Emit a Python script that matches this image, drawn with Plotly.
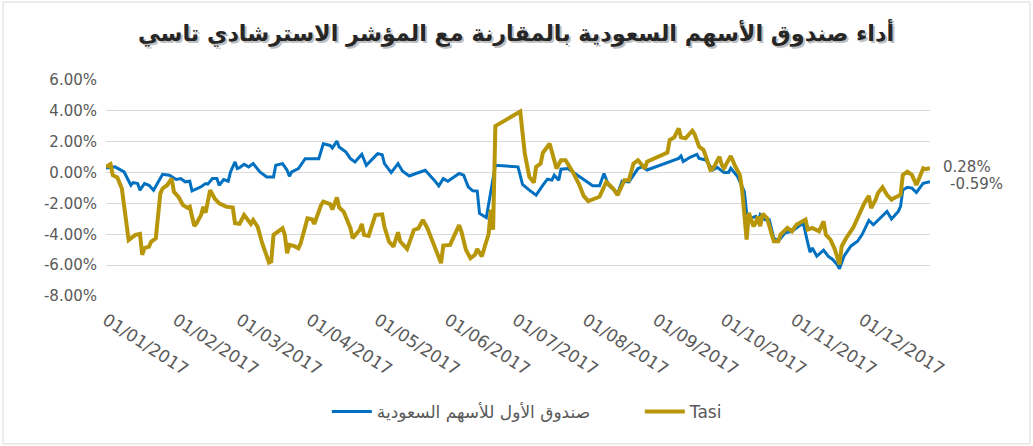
import plotly.graph_objects as go

# ---------------- data ----------------
fund_name = "صندوق الأول للأسهم السعودية"
tasi_name = "Tasi"
title_text = "أداء صندوق الأسهم السعودية بالمقارنة مع المؤشر الاسترشادي تاسي"

fund_dates = [
    "2017-01-01", "2017-01-05", "2017-01-09", "2017-01-12", "2017-01-13", "2017-01-15", "2017-01-16",
    "2017-01-18", "2017-01-20", "2017-01-22", "2017-01-26", "2017-01-29",
    "2017-02-01", "2017-02-03", "2017-02-05", "2017-02-07", "2017-02-08", "2017-02-12", "2017-02-14",
    "2017-02-15", "2017-02-17", "2017-02-19", "2017-02-20", "2017-02-22", "2017-02-24", "2017-02-25",
    "2017-02-27", "2017-02-28",
    "2017-03-01", "2017-03-03", "2017-03-05", "2017-03-07", "2017-03-10", "2017-03-13", "2017-03-16",
    "2017-03-17", "2017-03-20", "2017-03-22", "2017-03-23", "2017-03-24", "2017-03-27", "2017-03-30",
    "2017-04-05", "2017-04-07", "2017-04-10", "2017-04-11", "2017-04-13", "2017-04-14", "2017-04-17",
    "2017-04-19", "2017-04-21", "2017-04-24", "2017-04-26", "2017-04-29",
    "2017-05-01", "2017-05-03", "2017-05-04", "2017-05-07", "2017-05-10", "2017-05-12", "2017-05-15",
    "2017-05-17", "2017-05-22", "2017-05-26", "2017-05-28", "2017-05-30",
    "2017-06-01", "2017-06-06", "2017-06-08", "2017-06-10", "2017-06-12", "2017-06-14", "2017-06-15",
    "2017-06-18", "2017-06-19", "2017-06-20", "2017-06-22",
    "2017-07-02", "2017-07-04", "2017-07-07", "2017-07-10", "2017-07-13", "2017-07-15", "2017-07-17",
    "2017-07-18", "2017-07-20", "2017-07-21", "2017-07-24", "2017-07-27", "2017-07-31",
    "2017-08-04", "2017-08-07", "2017-08-09", "2017-08-11", "2017-08-15", "2017-08-17", "2017-08-20",
    "2017-08-24", "2017-08-26", "2017-08-28",
    "2017-09-08", "2017-09-11", "2017-09-12", "2017-09-13", "2017-09-16", "2017-09-19", "2017-09-20",
    "2017-09-23", "2017-09-26", "2017-09-28",
    "2017-10-01", "2017-10-03", "2017-10-04", "2017-10-07", "2017-10-10", "2017-10-11", "2017-10-13",
    "2017-10-15", "2017-10-16", "2017-10-17", "2017-10-19", "2017-10-21", "2017-10-23", "2017-10-25",
    "2017-10-28", "2017-10-31",
    "2017-11-03", "2017-11-05", "2017-11-07", "2017-11-08", "2017-11-09", "2017-11-11", "2017-11-14",
    "2017-11-16", "2017-11-18", "2017-11-20", "2017-11-21", "2017-11-23", "2017-11-26", "2017-11-29",
    "2017-12-01", "2017-12-04", "2017-12-06", "2017-12-09", "2017-12-12", "2017-12-14", "2017-12-17",
    "2017-12-18", "2017-12-19", "2017-12-21", "2017-12-23", "2017-12-25", "2017-12-28", "2017-12-31",
]
fund_values = [
    0.30, 0.37, 0.04, -0.82, -0.65, -0.71, -1.14,
    -0.71, -0.82, -1.14, -0.11, -0.17,
    -0.45, -0.39, -0.60, -0.56, -1.18, -0.92, -0.71,
    -0.75, -0.39, -0.39, -0.82, -0.45, -0.56, 0.04,
    0.69, 0.26,
    0.32, 0.54, 0.37, 0.58, 0.04, -0.28, -0.28,
    0.47, 0.58, 0.15, -0.24, 0.04, 0.26, 0.90,
    0.90, 1.87, 1.76, 1.59, 2.04, 1.66, 1.33,
    0.90, 0.69, 1.18, 0.47, 0.90,
    1.23, 1.16, 0.58, 0.00, 0.58, 0.09, -0.22,
    -0.11, 0.15, -0.49, -0.86, -0.39,
    -0.56, -0.06, -0.17, -0.92, -1.18, -1.20, -2.65,
    -2.92, -2.00, -1.30, 0.47,
    0.37, -0.77, -1.14, -1.46, -0.82, -0.43, -0.49,
    -0.17, -0.49, 0.22, 0.26, -0.06, -0.49,
    -0.86, -0.86, -0.06, -0.82, -1.35, -0.56, -0.60,
    0.26, 0.38, 0.17,
    0.77, 0.92, 1.08, 0.71, 0.99, 1.18, 0.92,
    0.82, 0.17, 0.34,
    0.00, 0.00, 0.28, -0.26, -1.23, -2.62, -2.95,
    -2.84, -3.16, -2.73, -3.05, -3.05, -4.24, -4.45,
    -3.91, -3.81,
    -3.48, -3.27, -4.56, -5.16, -4.88, -5.42, -5.03,
    -5.42, -5.63, -5.96, -6.24, -5.42, -4.77, -4.45,
    -4.02, -3.10, -3.38, -2.95, -2.52, -3.01, -2.52,
    -2.19, -1.12, -0.95, -1.01, -1.29, -0.69, -0.59,
]

tasi_dates = [
    "2017-01-01", "2017-01-03", "2017-01-04", "2017-01-06", "2017-01-08", "2017-01-09", "2017-01-11",
    "2017-01-14", "2017-01-16", "2017-01-17", "2017-01-18", "2017-01-20", "2017-01-21", "2017-01-23",
    "2017-01-25", "2017-01-26", "2017-01-28", "2017-01-30", "2017-01-31",
    "2017-02-02", "2017-02-04", "2017-02-06", "2017-02-07", "2017-02-09", "2017-02-10", "2017-02-12",
    "2017-02-13", "2017-02-14", "2017-02-15", "2017-02-16", "2017-02-18", "2017-02-20", "2017-02-23",
    "2017-02-26", "2017-02-27",
    "2017-03-01", "2017-03-03", "2017-03-04", "2017-03-06", "2017-03-07", "2017-03-09", "2017-03-11",
    "2017-03-14", "2017-03-15", "2017-03-16", "2017-03-20", "2017-03-21", "2017-03-22", "2017-03-23",
    "2017-03-25", "2017-03-27", "2017-03-28", "2017-03-31",
    "2017-04-02", "2017-04-03", "2017-04-06", "2017-04-07", "2017-04-10", "2017-04-11", "2017-04-13",
    "2017-04-14", "2017-04-16", "2017-04-17", "2017-04-19", "2017-04-20", "2017-04-23", "2017-04-24",
    "2017-04-25", "2017-04-27", "2017-04-29", "2017-04-30",
    "2017-05-03", "2017-05-04", "2017-05-06", "2017-05-08", "2017-05-10", "2017-05-11", "2017-05-14",
    "2017-05-17", "2017-05-19", "2017-05-21", "2017-05-23", "2017-05-26", "2017-05-29", "2017-05-30",
    "2017-06-02", "2017-06-04", "2017-06-06", "2017-06-07", "2017-06-09", "2017-06-11", "2017-06-13",
    "2017-06-14", "2017-06-16", "2017-06-18", "2017-06-19", "2017-06-20", "2017-06-21", "2017-06-22",
    "2017-07-03", "2017-07-05", "2017-07-06", "2017-07-07", "2017-07-09", "2017-07-10", "2017-07-12",
    "2017-07-13", "2017-07-16", "2017-07-18", "2017-07-19", "2017-07-21", "2017-07-23", "2017-07-26",
    "2017-07-29", "2017-07-31",
    "2017-08-02", "2017-08-07", "2017-08-09", "2017-08-10", "2017-08-13", "2017-08-15", "2017-08-18",
    "2017-08-20", "2017-08-22", "2017-08-24", "2017-08-27", "2017-08-28",
    "2017-09-06", "2017-09-07", "2017-09-09", "2017-09-11", "2017-09-12", "2017-09-14", "2017-09-17",
    "2017-09-18", "2017-09-20", "2017-09-22", "2017-09-25", "2017-09-26", "2017-09-29", "2017-09-30",
    "2017-10-01", "2017-10-04", "2017-10-06", "2017-10-08", "2017-10-09", "2017-10-11", "2017-10-12",
    "2017-10-14", "2017-10-15", "2017-10-16", "2017-10-17", "2017-10-18", "2017-10-20", "2017-10-23",
    "2017-10-25", "2017-10-26", "2017-10-29", "2017-10-31",
    "2017-11-02", "2017-11-06", "2017-11-07", "2017-11-09", "2017-11-12", "2017-11-14", "2017-11-15",
    "2017-11-17", "2017-11-19", "2017-11-21", "2017-11-22", "2017-11-24", "2017-11-27", "2017-11-30",
    "2017-12-02", "2017-12-04", "2017-12-05", "2017-12-07", "2017-12-08", "2017-12-10", "2017-12-12",
    "2017-12-14", "2017-12-15", "2017-12-18", "2017-12-19", "2017-12-21", "2017-12-23", "2017-12-25",
    "2017-12-28", "2017-12-29", "2017-12-31",
]
tasi_values = [
    0.37, 0.54, -0.17, -0.32, -1.03, -2.21, -4.37,
    -4.04, -3.98, -5.33, -4.90, -4.80, -4.47, -4.26,
    -1.35, -1.03, -0.82, -0.39, -1.25,
    -1.57, -2.11, -2.28, -2.21, -3.46, -3.29, -2.75,
    -2.21, -2.60, -1.78, -1.14, -1.68, -2.00, -2.21,
    -2.26, -3.29,
    -3.33, -2.75, -2.97, -3.33, -3.08, -3.51, -4.58,
    -5.83, -5.76, -4.04, -3.61, -4.04, -5.23, -4.69,
    -4.75, -4.90, -4.58, -2.97,
    -3.03, -3.33, -2.11, -1.89, -2.04, -2.39, -1.61,
    -2.26, -2.54, -2.86, -3.61, -4.26, -3.72, -3.33,
    -4.04, -4.11, -3.18, -2.75,
    -2.71, -3.51, -4.47, -4.80, -3.87, -4.47, -4.95,
    -3.72, -3.61, -3.08, -3.61, -4.80, -5.87, -4.73,
    -4.69, -4.04, -3.40, -3.83, -5.01, -5.55, -5.33,
    -4.95, -5.44, -4.47, -4.00, -2.40, -3.70, 3.01,
    3.96, 1.23, 0.58, -0.28, -0.65, 0.37, 0.58,
    1.29, 1.87, 0.80, 0.26, 0.80, 0.80, 0.09,
    -0.77, -1.51,
    -1.85, -1.57, -0.82, -0.60, -1.03, -1.46, -0.49,
    -0.49, 0.58, 0.80, 0.26, 0.70,
    1.29, 2.11, 2.28, 2.86, 2.28, 2.22, 2.71,
    2.49, 1.68, 1.46, 0.17, 0.22, 1.03, 0.49,
    0.28, 1.08, 0.39, -0.15, -1.12, -4.34, -2.62,
    -3.48, -3.27, -2.84, -3.48, -2.67, -2.95, -4.45,
    -4.45, -4.02, -3.59, -3.81,
    -3.38, -3.05, -3.70, -3.59, -3.81, -3.16, -4.02,
    -4.34, -4.99, -5.96, -4.77, -4.24, -3.59, -2.62,
    -1.98, -1.51, -2.30, -1.76, -1.33, -0.95, -1.44,
    -1.76, -1.66, -1.44, -0.15, 0.06, -0.15, -0.80,
    0.28, 0.22, 0.28,
]

month_ticks = ["2017-%02d-01" % m for m in range(1, 13)]
month_labels = ["01/%02d/2017" % m for m in range(1, 13)]
y_ticks = [6, 4, 2, 0, -2, -4, -6, -8]
y_labels = ["%.2f%%" % v for v in y_ticks]

# ---------------- style ----------------
BLUE = "#0070C0"
GOLD = "#B8960A"
GRAY_TXT = "#595959"
GRID = "#D9D9D9"
FONT = "DejaVu Sans"

fig = go.Figure()
fig.add_trace(go.Scatter(x=fund_dates, y=fund_values, mode="lines", name=fund_name,
                         line=dict(color=BLUE, width=3)))
fig.add_trace(go.Scatter(x=tasi_dates, y=tasi_values, mode="lines", name=tasi_name,
                         line=dict(color=GOLD, width=4)))

# end-point labels
fig.add_annotation(x=tasi_dates[-1], y=tasi_values[-1], text="%.2f%%" % tasi_values[-1],
                   showarrow=False, xanchor="left", yanchor="middle", xshift=11, yshift=1,
                   font=dict(family=FONT, size=15, color=GRAY_TXT))
fig.add_annotation(x=fund_dates[-1], y=fund_values[-1], text="%.2f%%" % fund_values[-1],
                   showarrow=False, xanchor="left", yanchor="middle", xshift=18, yshift=-2,
                   font=dict(family=FONT, size=15, color=GRAY_TXT))

# title with shadow
for dx, dy, col in [(2, -2, "#BFBFBF"), (0, 0, "#262626")]:
    fig.add_annotation(xref="paper", yref="paper", x=0.4976, y=1.222, text="<b>%s</b>" % title_text,
                       showarrow=False, xanchor="center", yanchor="middle", xshift=dx, yshift=dy,
                       font=dict(family=FONT, size=22.3, color=col))

# chart border
fig.add_shape(type="rect", xref="paper", yref="paper", x0=-0.125, x1=1.1214, y0=-0.685, y1=1.361,
              line=dict(color=GRID, width=1), fillcolor="rgba(0,0,0,0)", layer="below")

fig.update_layout(
    width=1033, height=446,
    margin=dict(l=106, r=103, t=80, b=150),
    paper_bgcolor="white", plot_bgcolor="white",
    font=dict(family=FONT, color=GRAY_TXT),
    showlegend=True,
    legend=dict(orientation="h", x=0.268, y=-0.537, xanchor="left", yanchor="middle",
                font=dict(family=FONT, size=17, color=GRAY_TXT), itemwidth=40,
                entrywidth=258, entrywidthmode="pixels",
                bgcolor="rgba(0,0,0,0)"),
)
fig.update_xaxes(type="date", range=["2017-01-01", "2017-12-31"], tickvals=month_ticks,
                 ticktext=month_labels, tickangle=33, showgrid=False, showline=False,
                 zeroline=False, ticks="", ticklabelstandoff=10,
                 tickfont=dict(family=FONT, size=17, color=GRAY_TXT))
fig.update_yaxes(range=[-8, 6], tickvals=y_ticks, ticktext=y_labels, showgrid=True,
                 gridcolor=GRID, gridwidth=1, zeroline=True, zerolinecolor=GRID, zerolinewidth=1,
                 showline=False, ticks="", ticklabelstandoff=8,
                 tickfont=dict(family=FONT, size=15, color=GRAY_TXT))

fig.write_html("out.html", config={"displayModeBar": False},
               post_script="document.body.style.margin='0';document.body.style.overflow='hidden';")
